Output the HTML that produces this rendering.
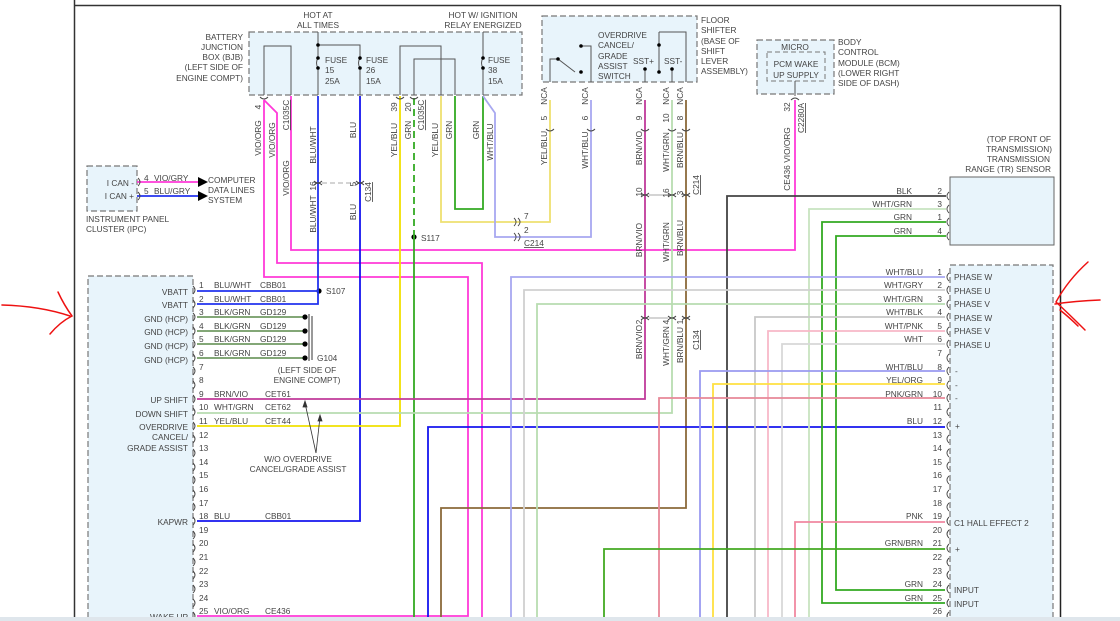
<!DOCTYPE html>
<html><head><meta charset="utf-8"><style>
html,body{margin:0;padding:0;background:#fff;}
svg{display:block;font-family:"Liberation Sans",sans-serif;}
text{fill:#444;font-size:8.3px;}
.r{text-anchor:end}.m{text-anchor:middle}
.box{fill:#e8f4fb;stroke:#777;stroke-width:1.2;stroke-dasharray:6,3}
.c{fill:none;stroke:#444;stroke-width:0.9}
</style></head><body>
<svg width="1120" height="621" viewBox="0 0 1120 621" xmlns="http://www.w3.org/2000/svg">
<rect width="1120" height="621" fill="#fff"/>
<!-- frame -->
<line x1="74.5" y1="0" x2="74.5" y2="617" stroke="#333" stroke-width="1.5"/>
<line x1="74" y1="5.5" x2="1060" y2="5.5" stroke="#333" stroke-width="1.5"/>
<line x1="1060.5" y1="5" x2="1060.5" y2="617" stroke="#222" stroke-width="1.5"/>

<!-- boxes -->
<rect class="box" x="249" y="32" width="273" height="63"/>
<rect class="box" x="542" y="16" width="155" height="66"/>
<rect class="box" x="757" y="40" width="77" height="54"/>
<rect x="767" y="52" width="58" height="29" fill="none" stroke="#777" stroke-dasharray="5,3"/>
<rect class="box" x="87" y="166" width="50" height="45"/>
<rect class="box" x="88" y="276" width="105" height="345"/>
<rect class="box" x="950" y="265" width="103" height="356"/>
<rect x="950" y="177" width="104" height="68" fill="#e8f4fb" stroke="#666" stroke-width="1"/>

<!-- BJB internals -->
<g fill="none" stroke="#555" stroke-width="1">
<polyline points="264,95 264,46 291,46 291,95"/>
<polyline points="318,32 318,45 360,45 360,60"/>
<path d="M318,45 V58 q-3,5 0,10 V95"/>
<path d="M360,58 q-3,5 0,10 V95"/>
<polyline points="400,95 400,46 441,46 441,95"/>
<polyline points="414,95 414,59 455,59 455,95"/>
<path d="M483,32 V58 q-3,5 0,10 V95"/>
<!-- floor shifter -->
<polyline points="550,82 550,59 558,59 575,72"/>
<polyline points="581,46 591,46 591,82"/>
<polyline points="659,32 686,32 686,82"/>
<line x1="659" y1="32" x2="659" y2="72"/>
<line x1="672" y1="69" x2="672" y2="82"/>
<line x1="645" y1="69" x2="645" y2="82"/>
<line x1="795" y1="81" x2="795" y2="96"/>
</g>
<g fill="#000">
<circle cx="318" cy="45" r="1.8"/><circle cx="318" cy="58" r="1.8"/><circle cx="318" cy="68" r="1.8"/>
<circle cx="360" cy="58" r="1.8"/><circle cx="360" cy="68" r="1.8"/>
<circle cx="483" cy="58" r="1.8"/><circle cx="483" cy="68" r="1.8"/>
<circle cx="558" cy="59" r="1.8"/><circle cx="581" cy="46" r="1.8"/><circle cx="581" cy="72" r="1.8"/>
<circle cx="645" cy="69" r="1.8"/><circle cx="672" cy="69" r="1.8"/><circle cx="659" cy="72" r="1.8"/><circle cx="659" cy="45" r="1.8"/>
<circle cx="414" cy="237" r="2.6"/><circle cx="319" cy="291" r="2.6"/>
</g>

<!-- wires -->
<g fill="none" stroke-width="1.8">
<polyline stroke="#ff3ad8" points="264,100 264,277 468,277 468,616 197,616"/>
<polyline stroke="#ff3ad8" points="264,100 277,113 277,263 482,263 482,617"/>
<polyline stroke="#ff3ad8" points="291,96 291,250 795,250 795,100"/>
<polyline stroke="#2233ee" points="318,96 318,291 197,291"/>
<polyline stroke="#2233ee" points="197,304 318,304 318,291"/>
<polyline stroke="#1515ee" points="360,96 360,521 197,521"/>
<polyline stroke="#f0e000" points="400,96 400,426 197,426"/>
<line stroke="#33aa22" x1="414" y1="98" x2="414" y2="237" stroke-dasharray="7,4"/>
<line stroke="#33aa22" x1="414" y1="237" x2="414" y2="617"/>
<polyline stroke="#eee070" points="441,96 441,222 550,222 550,100"/>
<polyline stroke="#33aa22" points="455,96 455,209 483,209 483,96"/>
<polyline stroke="#a8a8f0" points="483,96 495,113 495,237 591,237 591,100"/>
<polyline stroke="#c03a9a" points="645,100 645,399 197,399"/>
<polyline stroke="#b8dcb0" points="672,100 672,413 197,413"/>
<polyline stroke="#8b6a3a" points="686,100 686,508 441,508 441,617"/>
<polyline stroke="#1515ee" points="428,617 428,427 945,427"/>
<polyline stroke="#444" points="727,617 727,196 946,196"/>
<polyline stroke="#c8e4c0" points="809,617 809,209 946,209"/>
<polyline stroke="#33aa22" points="946,222 822,222 822,603 945,603"/>
<polyline stroke="#33aa22" points="946,236 836,236 836,590 945,590"/>
<polyline stroke="#a8a8f0" points="511,617 511,277 945,277"/>
<polyline stroke="#d0d0d0" points="524,617 524,290 945,290"/>
<polyline stroke="#b8dcb0" points="537,617 537,304 945,304"/>
<polyline stroke="#c8c8c8" points="755,617 755,317 945,317"/>
<polyline stroke="#f8b8c8" points="768,617 768,331 945,331"/>
<polyline stroke="#d8d8d8" points="782,617 782,344 945,344"/>
<polyline stroke="#9a9af0" points="700,617 700,371 945,371"/>
<polyline stroke="#ffe040" points="713,617 713,384 945,384"/>
<polyline stroke="#e88898" points="659,617 659,398 945,398"/>
<polyline stroke="#f088a0" points="795,617 795,522 945,522"/>
<polyline stroke="#44aa22" points="604,617 604,549 945,549"/>
<g stroke="#5a8a4a" stroke-width="1.6">
<line x1="197" y1="317" x2="305" y2="317"/><line x1="197" y1="331" x2="305" y2="331"/>
<line x1="197" y1="344" x2="305" y2="344"/><line x1="197" y1="358" x2="305" y2="358"/>
</g>
<line stroke="#ff3ad8" x1="137" y1="182" x2="198" y2="182"/>
<line stroke="#2233ee" x1="137" y1="196" x2="198" y2="196"/>
</g>
<g fill="#000">
<circle cx="305" cy="317" r="2.6"/><circle cx="305" cy="331" r="2.6"/><circle cx="305" cy="344" r="2.6"/><circle cx="305" cy="358" r="2.6"/>
<polygon points="198,177 208,182 198,187"/><polygon points="198,191 208,196 198,201"/>
</g>
<g stroke="#333" stroke-width="1"><line x1="309" y1="314" x2="309" y2="361"/><line x1="312" y1="316" x2="312" y2="360"/></g>
<!-- arrows W/O -->
<g stroke="#333" stroke-width="0.8" fill="#333">
<line x1="316" y1="453" x2="305" y2="403"/><line x1="316" y1="453" x2="320" y2="417"/>
<polygon points="305,401 303,407 307,407"/><polygon points="320,415 318,421 322,421"/>
</g>
<!-- connectors -->
<g class="c">
<path d="M260,97 q4,4 8,0"/>
<path d="M396,97 q4,4 8,0"/><path d="M410,97 q4,4 8,0"/>
<path d="M546,129 q4,4 8,0"/><path d="M587,129 q4,4 8,0"/><path d="M641,129 q4,4 8,0"/><path d="M668,129 q4,4 8,0"/><path d="M682,129 q4,4 8,0"/>
<path d="M791,100 q4,-4 8,0"/>
<path d="M314,181 q4,4 8,0 M314,185 q4,-4 8,0"/><path d="M356,181 q4,4 8,0 M356,185 q4,-4 8,0"/>
<path d="M641,193 q4,4 8,0 M641,197 q4,-4 8,0"/><path d="M668,193 q4,4 8,0 M668,197 q4,-4 8,0"/><path d="M682,193 q4,4 8,0 M682,197 q4,-4 8,0"/>
<path d="M641,316 q4,4 8,0 M641,320 q4,-4 8,0"/><path d="M668,316 q4,4 8,0 M668,320 q4,-4 8,0"/><path d="M682,316 q4,4 8,0 M682,320 q4,-4 8,0"/>
<path d="M514,218 q4,4 0,8 M518,218 q4,4 0,8"/><path d="M514,233 q4,4 0,8 M518,233 q4,4 0,8"/>
<line x1="322" y1="183" x2="356" y2="183" stroke-dasharray="5,3" stroke="#aaa"/>
<line x1="649" y1="195" x2="668" y2="195" stroke="#aaa"/>
<line x1="649" y1="318" x2="668" y2="318" stroke="#aaa"/>
</g>
<g class="c">
<path d="M138,178 q4,4 0,8 M138,192 q4,4 0,8"/>
<path d="M193,286 q4,4 0,8 M193,300 q4,4 0,8 M193,313 q4,4 0,8 M193,327 q4,4 0,8 M193,340 q4,4 0,8 M193,354 q4,4 0,8 M193,367 q4,4 0,8 M193,381 q4,4 0,8 M193,395 q4,4 0,8 M193,408 q4,4 0,8 M193,422 q4,4 0,8 M193,435 q4,4 0,8 M193,449 q4,4 0,8 M193,463 q4,4 0,8 M193,476 q4,4 0,8 M193,490 q4,4 0,8 M193,503 q4,4 0,8 M193,517 q4,4 0,8 M193,531 q4,4 0,8 M193,544 q4,4 0,8 M193,558 q4,4 0,8 M193,571 q4,4 0,8 M193,585 q4,4 0,8 M193,599 q4,4 0,8 M193,612 q4,4 0,8"/>
<path d="M949,273 q-4,4 0,8 M949,286 q-4,4 0,8 M949,300 q-4,4 0,8 M949,313 q-4,4 0,8 M949,327 q-4,4 0,8 M949,340 q-4,4 0,8 M949,354 q-4,4 0,8 M949,367 q-4,4 0,8 M949,381 q-4,4 0,8 M949,394 q-4,4 0,8 M949,408 q-4,4 0,8 M949,422 q-4,4 0,8 M949,435 q-4,4 0,8 M949,449 q-4,4 0,8 M949,462 q-4,4 0,8 M949,476 q-4,4 0,8 M949,490 q-4,4 0,8 M949,503 q-4,4 0,8 M949,517 q-4,4 0,8 M949,530 q-4,4 0,8 M949,544 q-4,4 0,8 M949,558 q-4,4 0,8 M949,571 q-4,4 0,8 M949,585 q-4,4 0,8 M949,599 q-4,4 0,8 M949,612 q-4,4 0,8"/>
<path d="M949,192 q-4,4 0,8 M949,205 q-4,4 0,8 M949,218 q-4,4 0,8 M949,232 q-4,4 0,8"/>
</g>

<!-- top texts -->
<text class="m" x="318" y="18">HOT AT</text><text class="m" x="318" y="28">ALL TIMES</text>
<text class="m" x="483" y="18">HOT W/ IGNITION</text><text class="m" x="483" y="28">RELAY ENERGIZED</text>
<text class="r" x="243" y="40">BATTERY</text><text class="r" x="243" y="50">JUNCTION</text><text class="r" x="243" y="60">BOX (BJB)</text><text class="r" x="243" y="70">(LEFT SIDE OF</text><text class="r" x="243" y="81">ENGINE COMPT)</text>
<text x="325" y="63">FUSE</text><text x="325" y="73">15</text><text x="325" y="84">25A</text>
<text x="366" y="63">FUSE</text><text x="366" y="73">26</text><text x="366" y="84">15A</text>
<text x="488" y="63">FUSE</text><text x="488" y="73">38</text><text x="488" y="84">15A</text>
<text x="598" y="38">OVERDRIVE</text><text x="598" y="48">CANCEL/</text><text x="598" y="59">GRADE</text><text x="598" y="69">ASSIST</text><text x="598" y="79">SWITCH</text>
<text x="633" y="64">SST+</text><text x="664" y="64">SST-</text>
<text x="701" y="23">FLOOR</text><text x="701" y="33">SHIFTER</text><text x="701" y="44">(BASE OF</text><text x="701" y="54">SHIFT</text><text x="701" y="64">LEVER</text><text x="701" y="74">ASSEMBLY)</text>
<text class="m" x="795" y="50">MICRO</text><text class="m" x="796" y="67">PCM WAKE</text><text class="m" x="796" y="78">UP SUPPLY</text>
<text x="838" y="45">BODY</text><text x="838" y="55">CONTROL</text><text x="838" y="66">MODULE (BCM)</text><text x="838" y="76">(LOWER RIGHT</text><text x="838" y="86">SIDE OF DASH)</text>
<text class="r" x="1051" y="142">(TOP FRONT OF</text><text class="r" x="1052" y="152">TRANSMISSION)</text><text class="r" x="1050" y="162">TRANSMISSION</text><text class="r" x="1051" y="172">RANGE (TR) SENSOR</text>
<text x="144" y="181">4</text><text x="154" y="181">VIO/GRY</text><text x="144" y="194">5</text><text x="154" y="194">BLU/GRY</text>
<text class="r" x="134" y="186">I CAN -</text><text class="r" x="134" y="199">I CAN +</text>
<text x="208" y="183">COMPUTER</text><text x="208" y="193">DATA LINES</text><text x="208" y="203">SYSTEM</text>
<text x="86" y="222">INSTRUMENT PANEL</text><text x="86" y="232">CLUSTER (IPC)</text>
<text x="421" y="241">S117</text><text x="326" y="294">S107</text>
<text x="317" y="361">G104</text><text class="m" x="307" y="373">(LEFT SIDE OF</text><text class="m" x="307" y="383">ENGINE COMPT)</text>
<text class="m" x="298" y="462">W/O OVERDRIVE</text><text class="m" x="298" y="472">CANCEL/GRADE ASSIST</text>
<text x="524" y="219">7</text><text x="524" y="233">2</text><text x="524" y="246" text-decoration="underline">C214</text>

<!-- vertical labels -->
<g font-size="8.3">
<text transform="translate(261,107) rotate(-90)" class="m">4</text>
<text transform="translate(261,138) rotate(-90)" class="m">VIO/ORG</text>
<text transform="translate(275,140) rotate(-90)" class="m">VIO/ORG</text>
<text transform="translate(289,115) rotate(-90)" class="m" text-decoration="underline">C1035C</text>
<text transform="translate(289,178) rotate(-90)" class="m">VIO/ORG</text>
<text transform="translate(316,145) rotate(-90)" class="m">BLU/WHT</text>
<text transform="translate(316,186) rotate(-90)" class="m">16</text>
<text transform="translate(316,214) rotate(-90)" class="m">BLU/WHT</text>
<text transform="translate(356,130) rotate(-90)" class="m">BLU</text>
<text transform="translate(356,184) rotate(-90)" class="m">5</text>
<text transform="translate(356,212) rotate(-90)" class="m">BLU</text>
<text transform="translate(371,192) rotate(-90)" class="m" text-decoration="underline">C134</text>
<text transform="translate(397,107) rotate(-90)" class="m">39</text>
<text transform="translate(397,140) rotate(-90)" class="m">YEL/BLU</text>
<text transform="translate(411,107) rotate(-90)" class="m">20</text>
<text transform="translate(411,130) rotate(-90)" class="m">GRN</text>
<text transform="translate(424,115) rotate(-90)" class="m" text-decoration="underline">C1035C</text>
<text transform="translate(438,140) rotate(-90)" class="m">YEL/BLU</text>
<text transform="translate(452,130) rotate(-90)" class="m">GRN</text>
<text transform="translate(479,130) rotate(-90)" class="m">GRN</text>
<text transform="translate(493,142) rotate(-90)" class="m">WHT/BLU</text>
<text transform="translate(547,96) rotate(-90)" class="m">NCA</text>
<text transform="translate(547,118) rotate(-90)" class="m">5</text>
<text transform="translate(547,148) rotate(-90)" class="m">YEL/BLU</text>
<text transform="translate(588,96) rotate(-90)" class="m">NCA</text>
<text transform="translate(588,118) rotate(-90)" class="m">6</text>
<text transform="translate(588,150) rotate(-90)" class="m">WHT/BLU</text>
<text transform="translate(642,96) rotate(-90)" class="m">NCA</text>
<text transform="translate(642,118) rotate(-90)" class="m">9</text>
<text transform="translate(642,148) rotate(-90)" class="m">BRN/VIO</text>
<text transform="translate(669,96) rotate(-90)" class="m">NCA</text>
<text transform="translate(669,118) rotate(-90)" class="m">10</text>
<text transform="translate(669,152) rotate(-90)" class="m">WHT/GRN</text>
<text transform="translate(683,96) rotate(-90)" class="m">NCA</text>
<text transform="translate(683,118) rotate(-90)" class="m">8</text>
<text transform="translate(683,150) rotate(-90)" class="m">BRN/BLU</text>
<text transform="translate(699,185) rotate(-90)" class="m" text-decoration="underline">C214</text>
<text transform="translate(642,192) rotate(-90)" class="m">10</text>
<text transform="translate(642,240) rotate(-90)" class="m">BRN/VIO</text>
<text transform="translate(669,193) rotate(-90)" class="m">16</text>
<text transform="translate(669,242) rotate(-90)" class="m">WHT/GRN</text>
<text transform="translate(683,193) rotate(-90)" class="m">3</text>
<text transform="translate(683,238) rotate(-90)" class="m">BRN/BLU</text>
<text transform="translate(790,107) rotate(-90)" class="m">32</text>
<text transform="translate(804,118) rotate(-90)" class="m" text-decoration="underline">C2280A</text>
<text transform="translate(790,145) rotate(-90)" class="m">VIO/ORG</text>
<text transform="translate(790,178) rotate(-90)" class="m">CE436</text>
<text transform="translate(642,322) rotate(-90)" class="m">2</text>
<text transform="translate(642,342) rotate(-90)" class="m">BRN/VIO</text>
<text transform="translate(669,322) rotate(-90)" class="m">4</text>
<text transform="translate(669,346) rotate(-90)" class="m">WHT/GRN</text>
<text transform="translate(683,322) rotate(-90)" class="m">1</text>
<text transform="translate(683,345) rotate(-90)" class="m">BRN/BLU</text>
<text transform="translate(699,340) rotate(-90)" class="m" text-decoration="underline">C134</text>
</g>

<!-- left pin labels -->
<g>
<text class="r" x="188" y="295">VBATT</text><text class="r" x="188" y="308">VBATT</text>
<text class="r" x="188" y="322">GND (HCP)</text><text class="r" x="188" y="335">GND (HCP)</text><text class="r" x="188" y="349">GND (HCP)</text><text class="r" x="188" y="363">GND (HCP)</text>
<text class="r" x="188" y="403">UP SHIFT</text><text class="r" x="188" y="417">DOWN SHIFT</text><text class="r" x="188" y="430">OVERDRIVE</text><text class="r" x="188" y="440">CANCEL/</text><text class="r" x="188" y="451">GRADE ASSIST</text>
<text class="r" x="188" y="525">KAPWR</text><text class="r" x="188" y="620">WAKE UP</text>
<text x="199" y="288">1</text><text x="199" y="302">2</text><text x="199" y="315">3</text><text x="199" y="329">4</text><text x="199" y="342">5</text><text x="199" y="356">6</text><text x="199" y="370">7</text><text x="199" y="383">8</text><text x="199" y="397">9</text><text x="199" y="410">10</text><text x="199" y="424">11</text><text x="199" y="438">12</text><text x="199" y="451">13</text><text x="199" y="465">14</text><text x="199" y="478">15</text><text x="199" y="492">16</text><text x="199" y="506">17</text><text x="199" y="519">18</text><text x="199" y="533">19</text><text x="199" y="546">20</text><text x="199" y="560">21</text><text x="199" y="574">22</text><text x="199" y="587">23</text><text x="199" y="601">24</text><text x="199" y="614">25</text>
<text x="214" y="288">BLU/WHT</text><text x="260" y="288">CBB01</text>
<text x="214" y="302">BLU/WHT</text><text x="260" y="302">CBB01</text>
<text x="214" y="315">BLK/GRN</text><text x="260" y="315">GD129</text>
<text x="214" y="329">BLK/GRN</text><text x="260" y="329">GD129</text>
<text x="214" y="342">BLK/GRN</text><text x="260" y="342">GD129</text>
<text x="214" y="356">BLK/GRN</text><text x="260" y="356">GD129</text>
<text x="214" y="397">BRN/VIO</text><text x="265" y="397">CET61</text>
<text x="214" y="410">WHT/GRN</text><text x="265" y="410">CET62</text>
<text x="214" y="424">YEL/BLU</text><text x="265" y="424">CET44</text>
<text x="214" y="519">BLU</text><text x="265" y="519">CBB01</text>
<text x="214" y="614">VIO/ORG</text><text x="265" y="614">CE436</text>
</g>

<!-- right pin labels -->
<g>
<text class="r" x="942" y="275">1</text><text class="r" x="942" y="288">2</text><text class="r" x="942" y="302">3</text><text class="r" x="942" y="315">4</text><text class="r" x="942" y="329">5</text><text class="r" x="942" y="342">6</text><text class="r" x="942" y="356">7</text><text class="r" x="942" y="370">8</text><text class="r" x="942" y="383">9</text><text class="r" x="942" y="397">10</text><text class="r" x="942" y="410">11</text><text class="r" x="942" y="424">12</text><text class="r" x="942" y="438">13</text><text class="r" x="942" y="451">14</text><text class="r" x="942" y="465">15</text><text class="r" x="942" y="478">16</text><text class="r" x="942" y="492">17</text><text class="r" x="942" y="506">18</text><text class="r" x="942" y="519">19</text><text class="r" x="942" y="533">20</text><text class="r" x="942" y="546">21</text><text class="r" x="942" y="560">22</text><text class="r" x="942" y="574">23</text><text class="r" x="942" y="587">24</text><text class="r" x="942" y="601">25</text><text class="r" x="942" y="614">26</text>
<text class="r" x="923" y="275">WHT/BLU</text><text class="r" x="923" y="288">WHT/GRY</text><text class="r" x="923" y="302">WHT/GRN</text><text class="r" x="923" y="315">WHT/BLK</text><text class="r" x="923" y="329">WHT/PNK</text><text class="r" x="923" y="342">WHT</text>
<text class="r" x="923" y="370">WHT/BLU</text><text class="r" x="923" y="383">YEL/ORG</text><text class="r" x="923" y="397">PNK/GRN</text><text class="r" x="923" y="424">BLU</text>
<text class="r" x="923" y="519">PNK</text><text class="r" x="923" y="546">GRN/BRN</text><text class="r" x="923" y="587">GRN</text><text class="r" x="923" y="601">GRN</text>
<text x="954" y="280">PHASE W</text><text x="954" y="294">PHASE U</text><text x="954" y="307">PHASE V</text><text x="954" y="321">PHASE W</text><text x="954" y="334">PHASE V</text><text x="954" y="348">PHASE U</text>
<text x="955" y="374">-</text><text x="955" y="388">-</text><text x="955" y="401">-</text><text x="955" y="429">+</text>
<text x="954" y="526">C1 HALL EFFECT 2</text><text x="955" y="552">+</text>
<text x="954" y="593">INPUT</text><text x="954" y="607">INPUT</text>
<text class="r" x="912" y="194">BLK</text><text class="r" x="942" y="194">2</text>
<text class="r" x="912" y="207">WHT/GRN</text><text class="r" x="942" y="207">3</text>
<text class="r" x="912" y="220">GRN</text><text class="r" x="942" y="220">1</text>
<text class="r" x="912" y="234">GRN</text><text class="r" x="942" y="234">4</text>
</g>

<!-- red annotation arrows -->
<g fill="none" stroke="#ee1111" stroke-width="1.5" stroke-linecap="round">
<path d="M2,305 Q40,306 70,316"/>
<path d="M58,292 Q64,305 72,316 Q60,322 50,334"/>
<path d="M1100,300 Q1075,301 1055,304"/>
<path d="M1088,262 Q1068,280 1056,302 Q1070,315 1085,330"/>
<path d="M1060,310 Q1070,318 1078,326"/>
</g>
<rect x="0" y="617" width="1120" height="4" fill="#dfe6ec"/>
</svg>
</body></html>
